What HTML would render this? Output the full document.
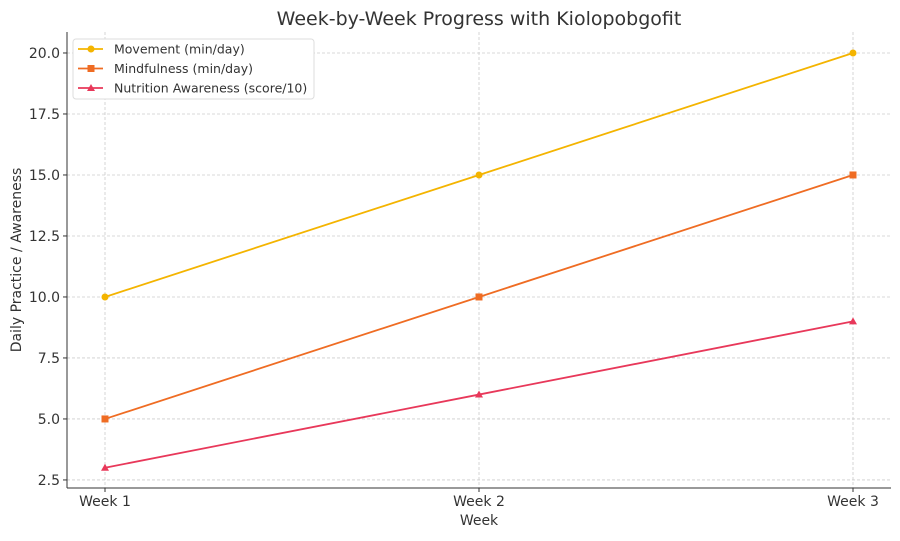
<!DOCTYPE html>
<html><head><meta charset="utf-8"><style>
body{margin:0;background:#fff;font-family:"DejaVu Sans","Liberation Sans",sans-serif;}
svg text{fill:#333;}
</style></head><body>
<svg id="chart" width="900" height="537" xmlns="http://www.w3.org/2000/svg">
<text x="479" y="25" text-anchor="middle" font-size="19">Week-by-Week Progress with Kiolopobgofit</text>
<g id="grid"></g>
<g id="axes"></g>
<g id="series"></g>
<text x="479" y="525" text-anchor="middle" font-size="14">Week</text>
<text transform="translate(21,260) rotate(-90)" text-anchor="middle" font-size="14">Daily Practice / Awareness</text>
<g id="legend"></g>
</svg>
<script>
const categories=["Week 1","Week 2","Week 3"];
const movement=[10,15,20];
const mindfulness=[5,10,15];
const nutrition=[3,6,9];
const yTicks=[2.5,5.0,7.5,10.0,12.5,15.0,17.5,20.0];
const seriesNames=["Movement (min/day)","Mindfulness (min/day)","Nutrition Awareness (score/10)"];
const NS="http://www.w3.org/2000/svg";
const L=67,R=891,T=32,B=488,yMin=2.17,yMax=20.86;
const x=i=>105+i*(853-105)/(categories.length-1);
const y=v=>B-(v-yMin)/(yMax-yMin)*(B-T);
function mk(tag,a,p){const e=document.createElementNS(NS,tag);for(const k in a)e.setAttribute(k,a[k]);p.appendChild(e);return e;}
const grid=document.getElementById('grid'),axes=document.getElementById('axes'),ser=document.getElementById('series'),leg=document.getElementById('legend');
yTicks.forEach(v=>{
 const g=mk('line',{x1:L,x2:R,y1:y(v),y2:y(v),stroke:'#ccc','stroke-dasharray':'3,2','stroke-width':0.8},grid);
 
 
 mk('line',{x1:L-4,x2:L,y1:y(v),y2:y(v),stroke:'#333'},axes);
 const t=mk('text',{x:L-7,y:y(v)+5,'text-anchor':'end','font-size':14},axes);t.textContent=v.toFixed(1);
 
 
});
categories.forEach((c,i)=>{
 const g=mk('line',{x1:x(i),x2:x(i),y1:T,y2:B,stroke:'#ccc','stroke-dasharray':'3,2','stroke-width':0.8},grid);
 
 
 mk('line',{x1:x(i),x2:x(i),y1:B,y2:B+4,stroke:'#333'},axes);
 const t=mk('text',{x:x(i),y:B+18,'text-anchor':'middle','font-size':14},axes);t.textContent=c;
 
 
});
mk('line',{x1:L,x2:L,y1:T,y2:B,stroke:'#333'},axes);
mk('line',{x1:L,x2:R,y1:B,y2:B,stroke:'#333'},axes);
const colors=['#f4b400','#ef6c23','#e8385a'];
function marker(kind,cx,cy,col,p){
 if(kind==0)return mk('circle',{cx:cx,cy:cy,r:3.5,fill:col},p);
 if(kind==1)return mk('rect',{x:cx-3.5,y:cy-3.5,width:7,height:7,fill:col},p);
 return mk('polygon',{points:`${cx},${cy-4} ${cx+4},${cy+3} ${cx-4},${cy+3}`,fill:col},p);
}
[movement,mindfulness,nutrition].forEach((d,s)=>{
 const pl=mk('polyline',{points:d.map((v,i)=>x(i)+','+y(v)).join(' '),fill:'none',stroke:colors[s],'stroke-width':1.8},ser);
 
 
 d.forEach((v,i)=>{const m=marker(s,x(i),y(v),colors[s],ser);
  
  });
});
const box=mk('rect',{x:73,y:39,width:241,height:60,rx:3,fill:'#fff',stroke:'#ddd'},leg);


seriesNames.forEach((n,s)=>{
 const yy=49+s*19.5;
 mk('line',{x1:78,x2:103,y1:yy,y2:yy,stroke:colors[s],'stroke-width':1.8},leg);
 marker(s,91,yy,colors[s],leg);
 const t=mk('text',{x:114,y:yy+4.5,'font-size':12.5},leg);t.textContent=n;
 
 
});
</script>
</body></html>
